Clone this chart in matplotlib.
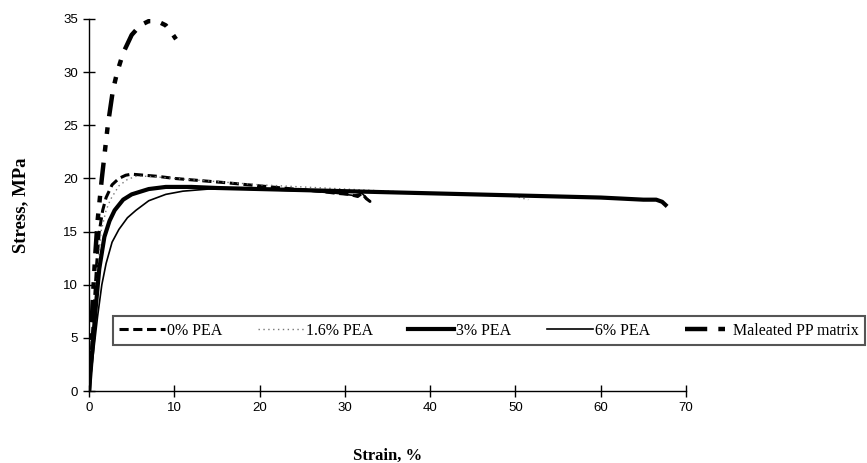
import matplotlib
matplotlib.use("Agg")
import matplotlib.pyplot as plt

plt.rcParams["font.family"] = ["Liberation Sans", "DejaVu Sans"]

# Data (strain %, stress MPa)
pea0_strain = [0, 0.3, 0.6, 0.9, 1.2, 1.6, 2.0, 2.7, 3.5, 4.3, 5.0, 6.5, 8, 10, 13, 16, 20, 24, 27, 29, 30.5, 31.5, 32.0, 32.5, 33.0]
pea0_stress = [0, 4, 8, 12, 15, 17, 18.2, 19.4, 20.0, 20.3, 20.4, 20.3, 20.2, 20.0, 19.8, 19.6, 19.3, 19.0, 18.8, 18.6, 18.5, 18.3, 18.6, 18.1, 17.8]

pea16_strain = [0, 0.3, 0.7, 1.0, 1.4, 2.0, 2.5, 3.5, 4.5, 5.5, 7, 10, 15, 20, 25, 30, 35, 40, 45, 50, 51.0, 51.5]
pea16_stress = [0, 3.5, 7.5, 11, 15, 17, 18, 19.3, 19.9, 20.2, 20.2, 20.0, 19.7, 19.4, 19.2, 19.0, 18.8, 18.6, 18.45, 18.3, 18.1, 18.0]

pea3_strain = [0, 0.4, 0.8, 1.2, 1.8, 2.4, 3.0, 4.0, 5.0, 7.0, 9.0, 12, 15, 20, 25, 30, 35, 40, 45, 50, 55, 60, 65, 66.5, 67.2, 67.6]
pea3_stress = [0, 4, 8, 11.5, 14.5, 16, 17, 18.0, 18.5, 19.0, 19.2, 19.2, 19.1, 19.0, 18.9, 18.8, 18.7, 18.6, 18.5, 18.4, 18.3, 18.2, 18.0, 18.0, 17.8, 17.5]

pea6_strain = [0, 0.5, 1.0, 1.5, 2.0, 2.7, 3.5, 4.5, 5.5, 7.0, 9.0, 11, 14, 18, 22, 26, 29, 31, 32, 32.5, 33.0]
pea6_stress = [0, 3.5, 7, 10, 12, 14, 15.2, 16.3, 17.0, 17.9, 18.5, 18.8, 19.0, 19.0, 18.9, 18.8, 18.6, 18.4, 18.6, 18.2, 17.8]

mpp_strain = [0, 0.2, 0.4, 0.7, 1.0, 1.5, 2.2, 2.8, 3.3, 4.0, 5.0, 6.0, 7.0, 8.0, 9.0, 9.6, 10.2]
mpp_stress = [0, 4, 8, 12.5, 16, 20, 25, 28.3, 30, 31.8, 33.5, 34.4, 34.8, 34.8, 34.4, 33.8, 33.1]

labels = ["0% PEA", "1.6% PEA", "3% PEA", "6% PEA", "Maleated PP matrix"]
x_ticks = [0, 10, 20, 30, 40, 50, 60, 70]
y_ticks = [0, 5, 10, 15, 20, 25, 30, 35]

fig = plt.figure(figsize=(8.67, 4.63), dpi=100)
ax = fig.add_axes([0.1027, 0.1555, 0.6886, 0.8035])

l0, = ax.plot(pea0_strain, pea0_stress, color="black", lw=2.2, dashes=(3.0, 1.5), label=labels[0])
l1, = ax.plot(pea16_strain, pea16_stress, color="#777777", lw=1.0, dashes=(1.0, 2.5), label=labels[1])
l2, = ax.plot(pea3_strain, pea3_stress, color="black", lw=3.0, label=labels[2])
l3, = ax.plot(pea6_strain, pea6_stress, color="black", lw=1.2, label=labels[3])
l4, = ax.plot(mpp_strain, mpp_stress, color="black", lw=3.2, dashes=(5, 2.5, 1.5, 2.5, 1.5, 2.5), label=labels[4])

ax.set_xlim(0, 70)
ax.set_ylim(0, 35)
ax.set_xticks(x_ticks)
ax.set_yticks(y_ticks)
for s in ["top", "right"]:
    ax.spines[s].set_visible(False)
for s in ["left", "bottom"]:
    ax.spines[s].set_linewidth(1.0)
ax.tick_params(direction="inout", length=8, width=1.0, labelsize=9.5, pad=4)

ax.set_xlabel("Strain, %", fontfamily="Liberation Serif", fontweight="bold", fontsize=12, labelpad=24)
ax.set_ylabel("Stress, MPa", fontfamily="Liberation Serif", fontweight="bold", fontsize=13.5, labelpad=24)

leg = fig.legend(handles=[l0, l1, l2, l3, l4], labels=labels, loc="lower left",
                 bbox_to_anchor=(0.130, 0.255, 0.868, 0.065), mode="expand", ncol=5,
                 fancybox=False, framealpha=1, edgecolor="#555555", handlelength=2.9,
                 handletextpad=0.1, borderaxespad=0, columnspacing=1.0,
                 prop={"family": "Liberation Serif", "size": 11.5})
leg.get_frame().set_linewidth(1.5)

fig.savefig("out.png", dpi=100)
